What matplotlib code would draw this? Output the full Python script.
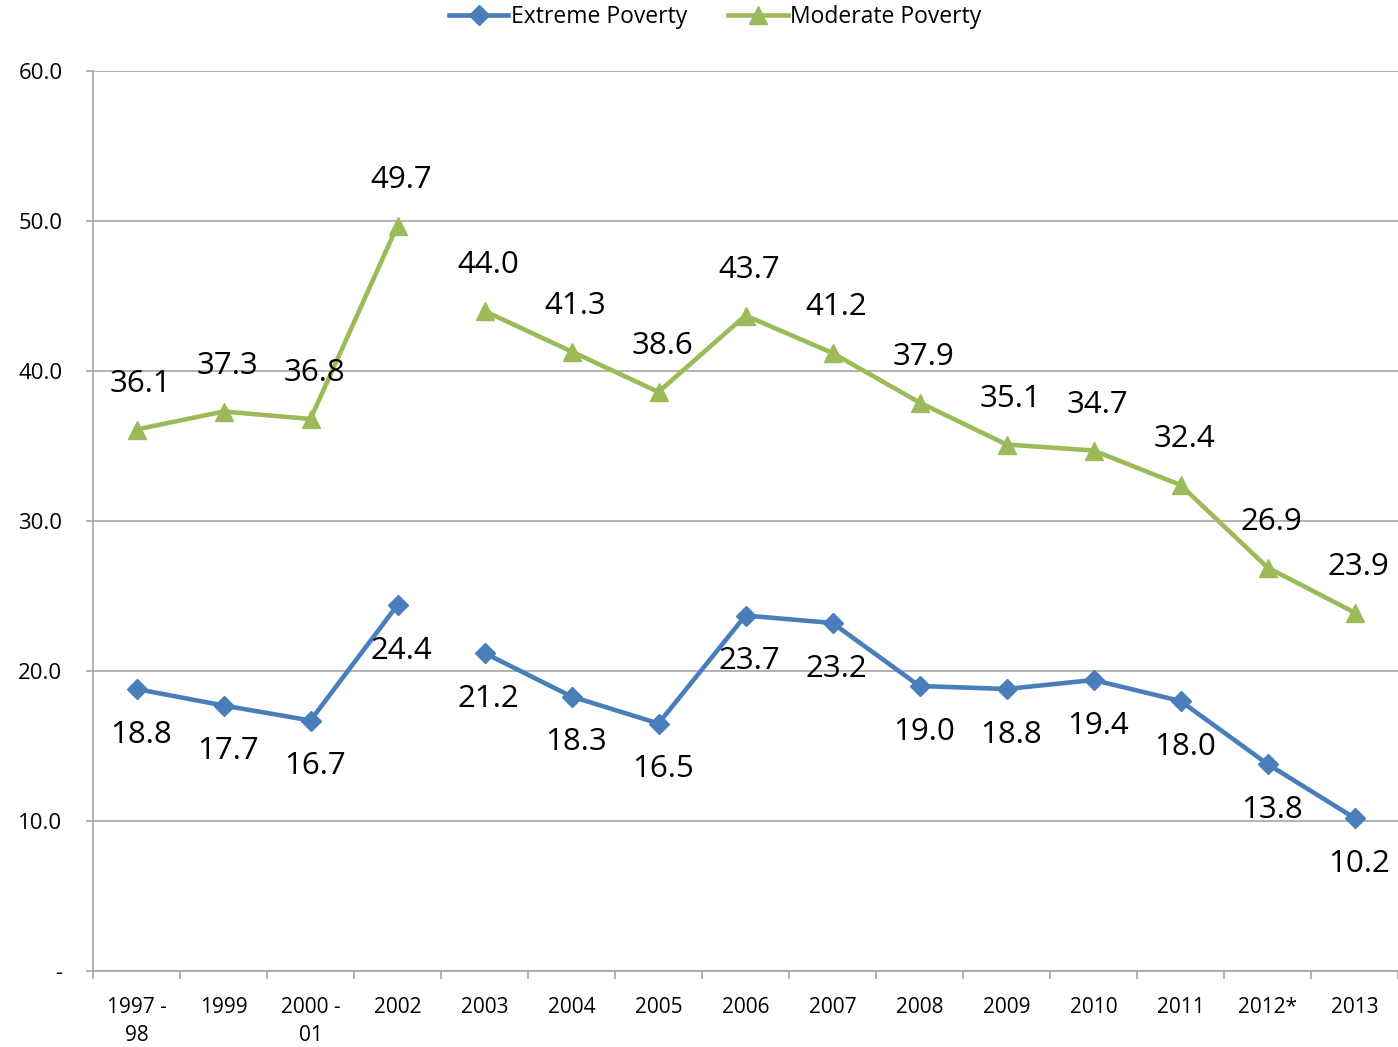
import matplotlib
matplotlib.use("Agg")
import matplotlib.pyplot as plt
import numpy as np
from matplotlib.lines import Line2D

plt.rcParams['font.family'] = ['Open Sans', 'DejaVu Sans']

categories = ["1997 -\n98", "1999", "2000 -\n01", "2002", "2003", "2004", "2005",
              "2006", "2007", "2008", "2009", "2010", "2011", "2012*", "2013"]
extreme = [18.8, 17.7, 16.7, 24.4, 21.2, 18.3, 16.5, 23.7, 23.2, 19.0, 18.8, 19.4, 18.0, 13.8, 10.2]
moderate = [36.1, 37.3, 36.8, 49.7, 44.0, 41.3, 38.6, 43.7, 41.2, 37.9, 35.1, 34.7, 32.4, 26.9, 23.9]
segments = [(0, 4), (4, 15)]  # series break between 2002 and 2003

blue = '#4A7EBB'
green = '#9BBB59'
gridc = '#A6A6A6'

fig = plt.figure(figsize=(13.98, 10.47), dpi=100)
ax = fig.add_axes([93/1398, 1-971/1047, 1-93/1398, 900/1047])

x = np.arange(len(categories))
for s, e in segments:
    ax.plot(x[s:e], extreme[s:e], color=blue, lw=3.3, marker='D', ms=10, zorder=3)
    ax.plot(x[s:e], moderate[s:e], color=green, lw=3.3, marker='^', ms=13, zorder=3)

for xi, v in zip(x, moderate):
    ax.annotate(f"{v:.1f}", (xi, v), xytext=(3, 33), textcoords='offset points',
                ha='center', va='center', fontsize=22.5)
for xi, v in zip(x, extreme):
    ax.annotate(f"{v:.1f}", (xi, v), xytext=(3, -33), textcoords='offset points',
                ha='center', va='center', fontsize=22.5)

ax.set_xlim(-0.5, len(categories) - 0.5)
ax.set_ylim(0, 60)
yt = np.arange(0, 61, 10)
ax.set_yticks(yt)
ax.set_yticklabels(["-" if v == 0 else f"{v:.1f}" for v in yt], fontsize=16)
ax.yaxis.grid(True, color=gridc, lw=1.2)
ax.set_axisbelow(True)
ax.tick_params(axis='y', length=5, color=gridc, pad=17, width=1.2)

ax.set_xticks(x)
ax.set_xticklabels(categories, fontsize=15, va='top', linespacing=1.4)
ax.set_xticks(np.arange(-0.5, len(categories), 1), minor=True)
ax.tick_params(axis='x', which='major', length=0, pad=19)
ax.tick_params(axis='x', which='minor', length=6, color=gridc, width=1.2)

for sp in ['top', 'right']:
    ax.spines[sp].set_visible(False)
for sp in ['left', 'bottom']:
    ax.spines[sp].set_color(gridc)
    ax.spines[sp].set_linewidth(1.2)

handles = [Line2D([], [], color=blue, lw=3.3, marker='D', ms=10),
           Line2D([], [], color=green, lw=3.3, marker='^', ms=13)]
fig.legend(handles, ["Extreme Poverty", "Moderate Poverty"], loc='center',
           bbox_to_anchor=(715/1398, 1-17/1047), ncol=2, frameon=False,
           fontsize=16.5, handlelength=2.6, handletextpad=0.1, columnspacing=1.8)

fig.savefig("out.png", dpi=100)
